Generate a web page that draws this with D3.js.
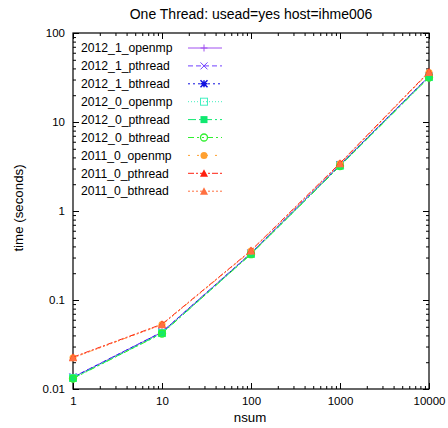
<!DOCTYPE html>
<html>
<head>
<meta charset="utf-8">
<script src="https://cdn.jsdelivr.net/npm/d3@7"></script>
<style>
  body { margin: 0; background: #fff; }
  text { font-family: "Liberation Sans", Arial, sans-serif; fill: #000; }
</style>
</head>
<body>
<div id="chart"></div>
<script>
// x values (nsum)
var nsum = [1, 10, 100, 1000, 10000];

// series names
var seriesNames = [
  "2012_1_openmp", "2012_1_pthread", "2012_1_bthread",
  "2012_0_openmp", "2012_0_pthread", "2012_0_bthread",
  "2011_0_openmp", "2011_0_pthread", "2011_0_bthread"
];

// time (seconds), one array per series
var t2012_1_openmp  = [0.0135, 0.0435, 0.335, 3.3, 32.5];
var t2012_1_pthread = [0.0136, 0.0437, 0.336, 3.3, 32.8];
var t2012_1_bthread = [0.0135, 0.0434, 0.334, 3.3, 32.4];
var t2012_0_openmp  = [0.0133, 0.0425, 0.33, 3.25, 32.0];
var t2012_0_pthread = [0.0132, 0.0423, 0.328, 3.2, 31.8];
var t2012_0_bthread = [0.0131, 0.042, 0.327, 3.2, 31.6];
var t2011_0_openmp  = [0.0225, 0.053, 0.355, 3.4, 36.0];
var t2011_0_pthread = [0.0228, 0.0535, 0.36, 3.45, 36.8];
var t2011_0_bthread = [0.0224, 0.0528, 0.356, 3.4, 36.2];

var seriesValues = [t2012_1_openmp, t2012_1_pthread, t2012_1_bthread,
  t2012_0_openmp, t2012_0_pthread, t2012_0_bthread,
  t2011_0_openmp, t2011_0_pthread, t2011_0_bthread];

var xTicks = [1, 10, 100, 1000, 10000];
var yTicks = [0.01, 0.1, 1, 10, 100];

// styles
var colors = ["#a050f0", "#7040ff", "#1010e0", "#40f0c0", "#10e870", "#30f030", "#ffa030", "#ff2010", "#ff7040"];
var dashes = [null, "5,3", "2,3", "1,2", "8,3,2,3", "6,3,2,3,2,3", "2,7", "6,2,2,2", "2,2"];
var markers = ["plus", "cross", "star", "square", "squareF", "circle", "circleF", "triF", "triF"];

var margin = {top: 33, right: 19, bottom: 39, left: 73},
  width = 448 - margin.left - margin.right,
  height = 428 - margin.top - margin.bottom;

var svg = d3.select("#chart").append("svg")
  .attr("width", 448).attr("height", 428);

var g = svg.append("g")
  .attr("transform", "translate(" + margin.left + "," + margin.top + ")");

var x = d3.scaleLog().domain([1, 10000]).range([0, width]);
var y = d3.scaleLog().domain([0.01, 100]).range([height, 0]);

// minor ticks
var xMinor = [], yMinor = [];
for (var e = 0; e < 4; e++) for (var m = 2; m <= 9; m++) xMinor.push(m * Math.pow(10, e));
for (var e2 = -2; e2 < 2; e2++) for (var m2 = 2; m2 <= 9; m2++) yMinor.push(+(m2 * Math.pow(10, e2)).toPrecision(3));

function fmt(d) { return String(+d.toPrecision(3)); }

function styleAxis(sel) {
  sel.select(".domain").remove();
  sel.selectAll("line").attr("stroke", "#000");
  sel.selectAll("text").style("font-size", "11.5px").style("font-family", "Liberation Sans, Arial, sans-serif");
}

// major ticks
g.append("g").attr("transform", "translate(0," + height + ")")
  .call(d3.axisBottom(x).tickValues(xTicks).tickFormat(fmt).tickSize(-6).tickPadding(8))
  .call(styleAxis);
g.append("g")
  .call(d3.axisTop(x).tickValues(xTicks).tickFormat("").tickSize(-6))
  .call(styleAxis);
g.append("g")
  .call(d3.axisLeft(y).tickValues(yTicks).tickFormat(fmt).tickSize(-6).tickPadding(8))
  .call(styleAxis);
g.append("g").attr("transform", "translate(" + width + ",0)")
  .call(d3.axisRight(y).tickValues(yTicks).tickFormat("").tickSize(-6))
  .call(styleAxis);

// minor ticks
g.append("g").attr("transform", "translate(0," + height + ")")
  .call(d3.axisBottom(x).tickValues(xMinor).tickFormat("").tickSize(-3)).call(styleAxis);
g.append("g")
  .call(d3.axisTop(x).tickValues(xMinor).tickFormat("").tickSize(-3)).call(styleAxis);
g.append("g")
  .call(d3.axisLeft(y).tickValues(yMinor).tickFormat("").tickSize(-3)).call(styleAxis);
g.append("g").attr("transform", "translate(" + width + ",0)")
  .call(d3.axisRight(y).tickValues(yMinor).tickFormat("").tickSize(-3)).call(styleAxis);

// frame
g.append("rect").attr("width", width).attr("height", height)
  .attr("fill", "none").attr("stroke", "#000").attr("stroke-width", 1.2);

function drawMarker(sel, type, color) {
  var s = 3.5;
  if (type === "plus") {
    sel.append("path").attr("d", "M" + -s + ",0H" + s + "M0," + -s + "V" + s)
      .attr("stroke", color).attr("fill", "none");
  } else if (type === "cross") {
    sel.append("path").attr("d", "M" + -s + "," + -s + "L" + s + "," + s + "M" + -s + "," + s + "L" + s + "," + -s)
      .attr("stroke", color).attr("fill", "none");
  } else if (type === "star") {
    sel.append("path").attr("d", "M" + -s + ",0H" + s + "M0," + -s + "V" + s +
      "M" + -s + "," + -s + "L" + s + "," + s + "M" + -s + "," + s + "L" + s + "," + -s)
      .attr("stroke", color).attr("fill", "none").attr("stroke-width", 1.5);
  } else if (type === "square") {
    sel.append("rect").attr("x", -s).attr("y", -s).attr("width", 2 * s).attr("height", 2 * s)
      .attr("stroke", color).attr("fill", "none");
  } else if (type === "squareF") {
    sel.append("rect").attr("x", -s).attr("y", -s).attr("width", 2 * s).attr("height", 2 * s)
      .attr("fill", color);
  } else if (type === "circle") {
    sel.append("circle").attr("r", s).attr("stroke", color).attr("fill", "none").attr("stroke-width", 1.3);
  } else if (type === "circleF") {
    sel.append("circle").attr("r", s).attr("fill", color);
  } else if (type === "triF") {
    sel.append("path").attr("d", "M0," + (-s - 0.5) + "L" + (s + 0.5) + "," + s + "L" + (-s - 0.5) + "," + s + "Z")
      .attr("fill", color);
  }
}

var line = d3.line().x(function (d) { return x(d[0]); }).y(function (d) { return y(d[1]); });

seriesNames.forEach(function (name, i) {
  var pts = nsum.map(function (n, j) { return [n, seriesValues[i][j]]; });
  g.append("path").datum(pts)
    .attr("d", line)
    .attr("fill", "none")
    .attr("stroke", colors[i])
    .attr("stroke-width", 1)
    .attr("stroke-dasharray", dashes[i]);
  pts.forEach(function (p) {
    var mg = g.append("g").attr("transform", "translate(" + x(p[0]) + "," + y(p[1]) + ")");
    drawMarker(mg, markers[i], colors[i]);
  });
});

// legend
var legend = svg.selectAll(".legend")
  .data(seriesNames)
  .enter().append("g")
  .attr("transform", function (d, i) { return "translate(0," + (48 + i * 17.9) + ")"; });

legend.append("text")
  .attr("x", 81).attr("dy", "0.35em")
  .style("font-size", "12.2px")
  .text(function (d) { return d; });

legend.append("line")
  .attr("x1", 188).attr("x2", 222)
  .attr("stroke", function (d, i) { return colors[i]; })
  .attr("stroke-dasharray", function (d, i) { return dashes[i]; });

legend.each(function (d, i) {
  var mg = d3.select(this).append("g").attr("transform", "translate(204,0)");
  drawMarker(mg, markers[i], colors[i]);
});

// title and axis labels
svg.append("text").attr("x", 251).attr("y", 19)
  .attr("text-anchor", "middle").style("font-size", "14px")
  .text("One Thread: usead=yes host=ihme006");

svg.append("text").attr("x", 250).attr("y", 422)
  .attr("text-anchor", "middle").style("font-size", "13.3px")
  .text("nsum");

svg.append("text")
  .attr("transform", "translate(23," + 208 + ") rotate(-90)")
  .attr("text-anchor", "middle").style("font-size", "13.3px")
  .text("time (seconds)");
</script>
</body>
</html>
